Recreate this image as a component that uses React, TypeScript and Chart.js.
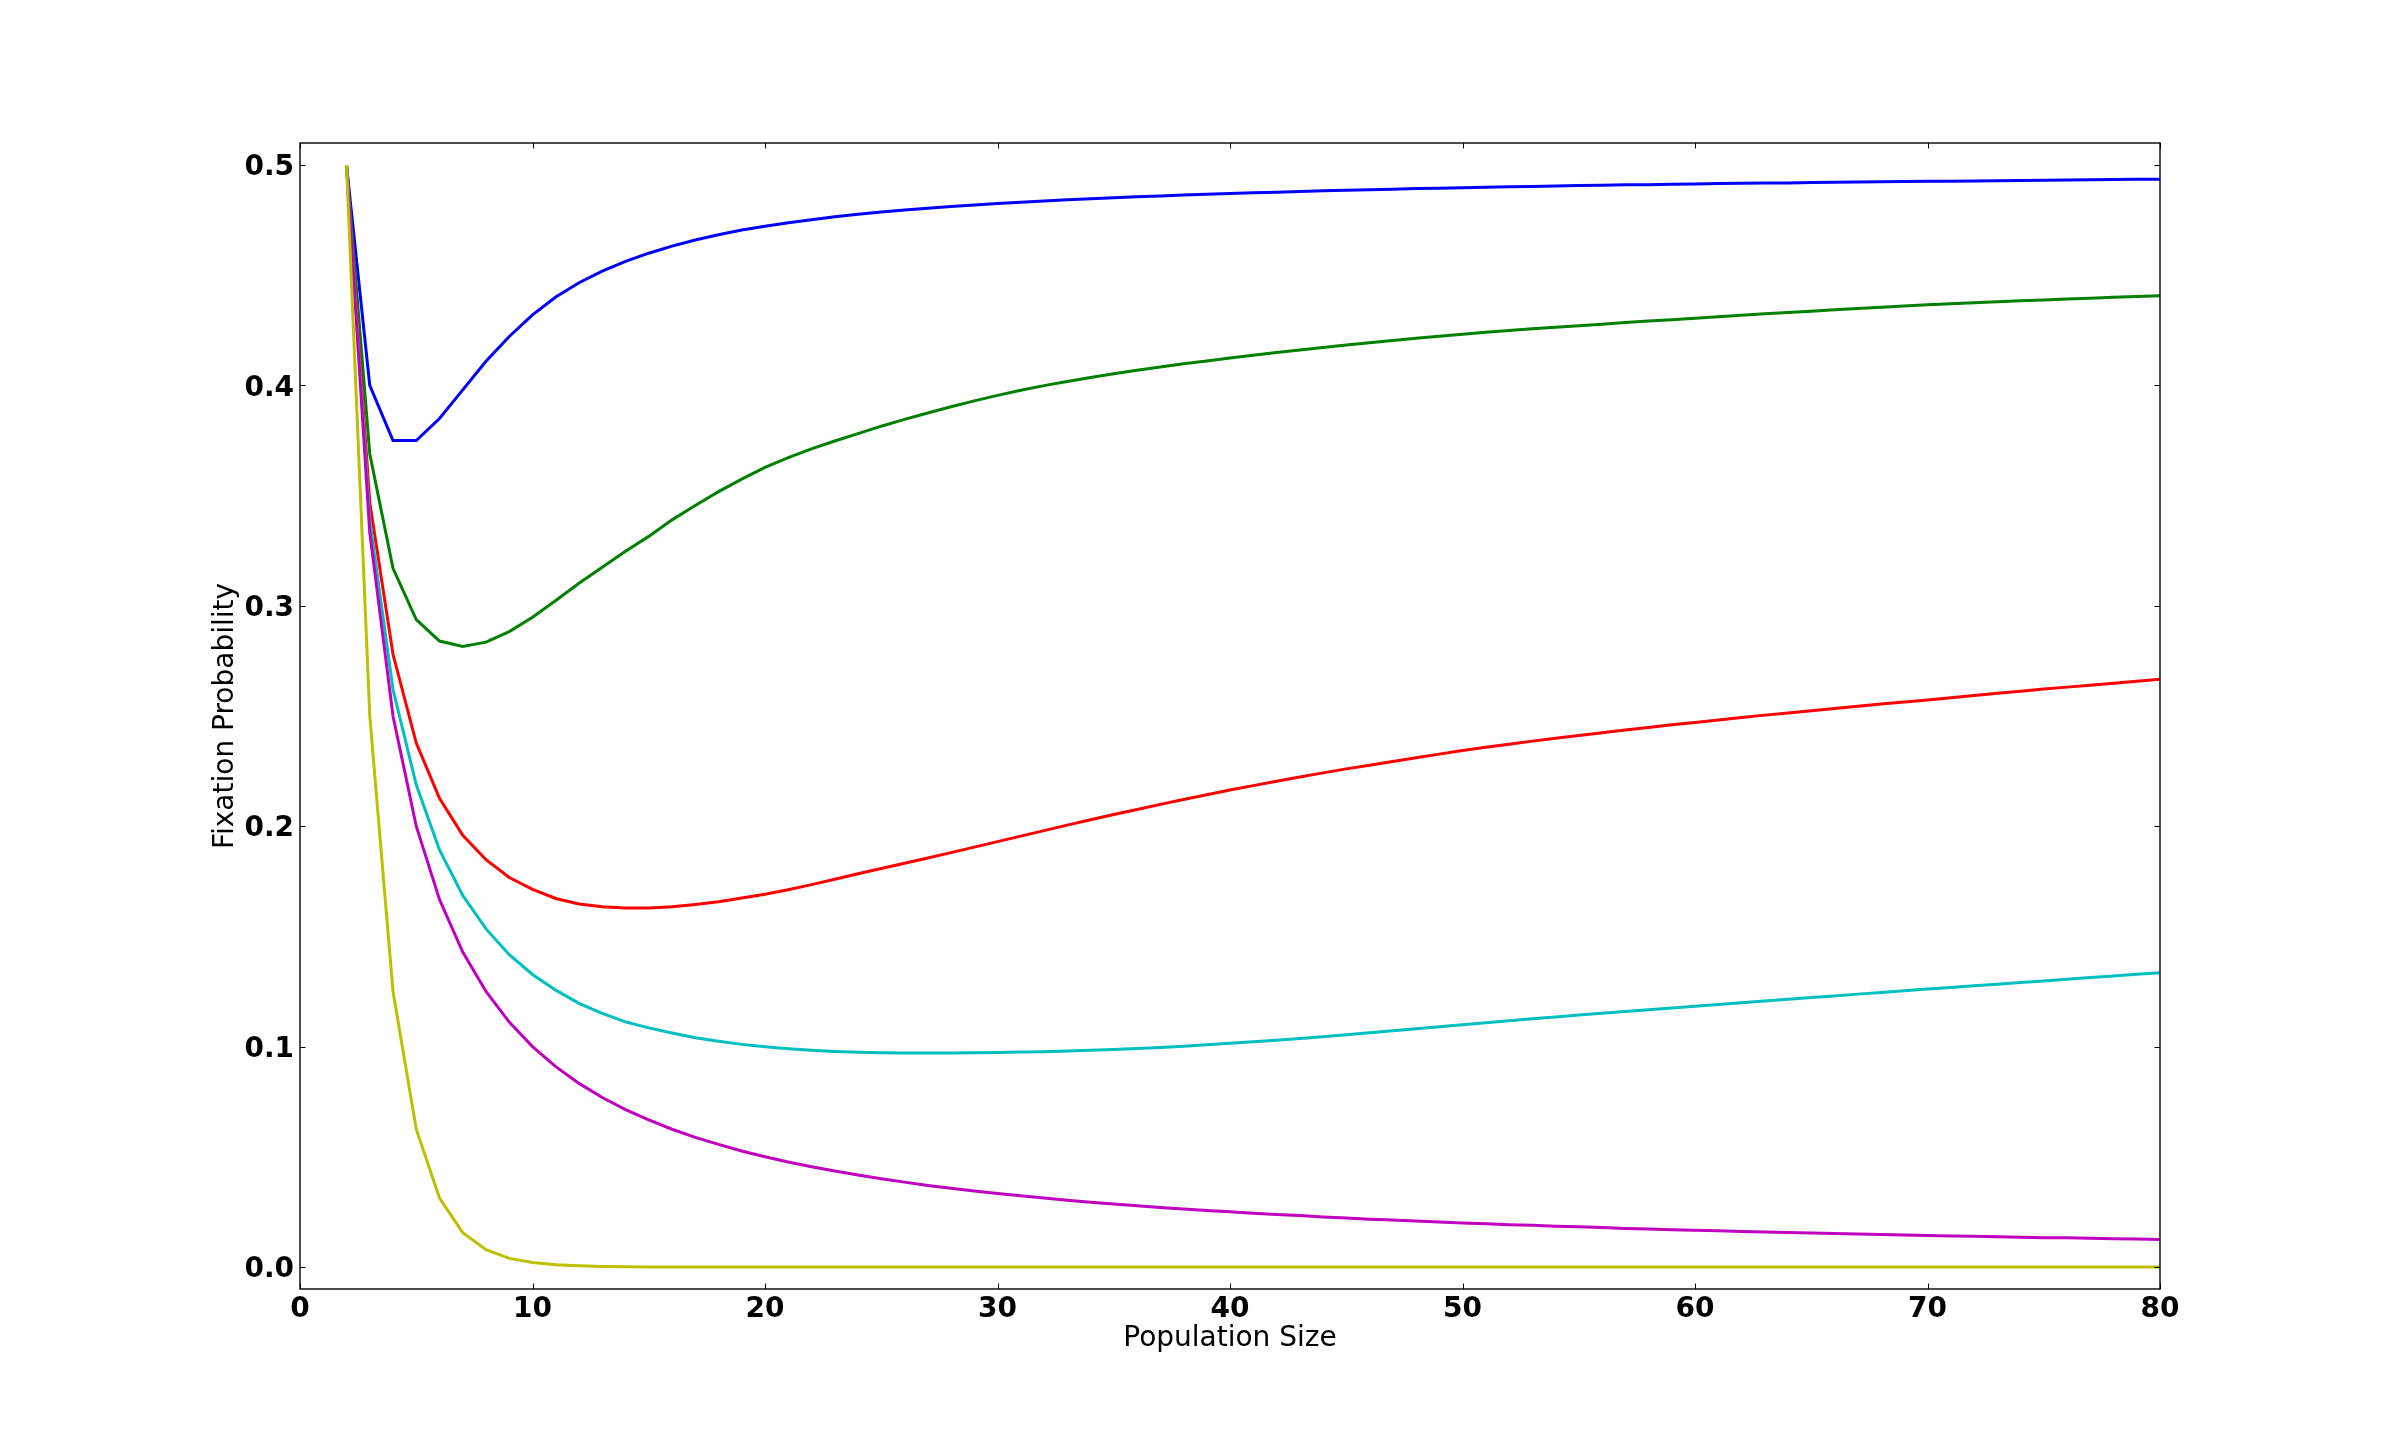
import { useEffect, useRef } from "react";
import { Chart, registerables } from "chart.js";

Chart.register(...registerables);

const POPULATION_SIZE = [
  2, 3, 4, 5, 6, 7, 8, 9, 10, 11,
  12, 13, 14, 15, 16, 17, 18, 19, 20, 21,
  22, 23, 24, 25, 26, 27, 28, 29, 30, 31,
  32, 33, 34, 35, 36, 37, 38, 39, 40, 41,
  42, 43, 44, 45, 46, 47, 48, 49, 50, 51,
  52, 53, 54, 55, 56, 57, 58, 59, 60, 61,
  62, 63, 64, 65, 66, 67, 68, 69, 70, 71,
  72, 73, 74, 75, 76, 77, 78, 79, 80,
];

const X_TICKS = [0, 10, 20, 30, 40, 50, 60, 70, 80];
const Y_TICKS = [0.0, 0.1, 0.2, 0.3, 0.4, 0.5];

const SERIES_BLUE = [
  0.5, 0.4, 0.375, 0.375, 0.385, 0.398, 0.411, 0.4222, 0.432, 0.4401,
  0.4466, 0.4519, 0.4563, 0.46, 0.4632, 0.466, 0.4684, 0.4705, 0.4722, 0.4738,
  0.4752, 0.4765, 0.4777, 0.4787, 0.4796, 0.4804, 0.4812, 0.4819, 0.4825, 0.4831,
  0.4837, 0.4842, 0.4847, 0.4852, 0.4856, 0.486, 0.4864, 0.4868, 0.4871, 0.4874,
  0.4877, 0.488, 0.4883, 0.4886, 0.4888, 0.489, 0.4893, 0.4895, 0.4897, 0.4899,
  0.4901, 0.4903, 0.4905, 0.4907, 0.4908, 0.491, 0.4911, 0.4913, 0.4914, 0.4916,
  0.4917, 0.4918, 0.4919, 0.4921, 0.4922, 0.4923, 0.4924, 0.4925, 0.4926, 0.4927,
  0.4928, 0.4929, 0.493, 0.4931, 0.4932, 0.4933, 0.4934, 0.4935, 0.4936,
];

const SERIES_GREEN = [
  0.5, 0.369, 0.317, 0.2937, 0.284, 0.2815, 0.2835, 0.2883, 0.2948, 0.3024,
  0.3102, 0.3175, 0.3248, 0.3315, 0.339, 0.3455, 0.3518, 0.3575, 0.3628, 0.3672,
  0.3712, 0.3748, 0.3781, 0.3815, 0.3846, 0.3875, 0.3903, 0.393, 0.3955, 0.3978,
  0.3999, 0.4018, 0.4036, 0.4053, 0.4069, 0.4084, 0.4098, 0.4111, 0.4124, 0.4137,
  0.4149, 0.4161, 0.4172, 0.4183, 0.4194, 0.4204, 0.4214, 0.4223, 0.4232, 0.4241,
  0.4249, 0.4257, 0.4264, 0.4271, 0.4278, 0.4285, 0.4292, 0.4298, 0.4305, 0.4312,
  0.4318, 0.4325, 0.4331, 0.4337, 0.4343, 0.4349, 0.4355, 0.436, 0.4366, 0.4371,
  0.4375, 0.438, 0.4384, 0.4388, 0.4392, 0.4396, 0.44, 0.4404, 0.4407,
];

const SERIES_RED = [
  0.5, 0.347, 0.278, 0.2377, 0.2126, 0.1959, 0.1848, 0.1767, 0.1713, 0.1672,
  0.1647, 0.1634, 0.1629, 0.1629, 0.1634, 0.1645, 0.1657, 0.1674, 0.1691, 0.1712,
  0.1735, 0.1759, 0.1784, 0.1808, 0.1832, 0.1856, 0.188, 0.1905, 0.193, 0.1955,
  0.198, 0.2005, 0.2029, 0.2053, 0.2076, 0.2099, 0.2121, 0.2143, 0.2164, 0.2184,
  0.2204, 0.2223, 0.2242, 0.226, 0.2277, 0.2294, 0.2311, 0.2327, 0.2343, 0.2358,
  0.2372, 0.2386, 0.2399, 0.2412, 0.2424, 0.2436, 0.2448, 0.246, 0.2471, 0.2482,
  0.2493, 0.2504, 0.2514, 0.2524, 0.2534, 0.2544, 0.2554, 0.2564, 0.2573, 0.2583,
  0.2593, 0.2603, 0.2612, 0.2622, 0.2631, 0.264, 0.2649, 0.2658, 0.2667,
];

const SERIES_CYAN = [
  0.5, 0.339, 0.262, 0.2188, 0.1892, 0.1686, 0.1534, 0.1417, 0.1327, 0.1256,
  0.1196, 0.1151, 0.1112, 0.1085, 0.1062, 0.104, 0.1024, 0.101, 0.0999, 0.099,
  0.0983, 0.0978, 0.0974, 0.0972, 0.0971, 0.0971, 0.0971, 0.0972, 0.0973, 0.0975,
  0.0977, 0.098, 0.0983, 0.0987, 0.0991, 0.0996, 0.1001, 0.1008, 0.1015, 0.1022,
  0.1029, 0.1037, 0.1045, 0.1054, 0.1063, 0.1072, 0.1081, 0.109, 0.1099, 0.1108,
  0.1117, 0.1126, 0.1134, 0.1143, 0.1151, 0.1159, 0.1167, 0.1175, 0.1183, 0.1191,
  0.1199, 0.1207, 0.1215, 0.1223, 0.123, 0.1238, 0.1245, 0.1253, 0.1261, 0.1268,
  0.1276, 0.1283, 0.1291, 0.1298, 0.1306, 0.1313, 0.132, 0.1328, 0.1335,
];

const SERIES_MAGENTA = [
  0.5, 0.3333, 0.25, 0.2, 0.1667, 0.1429, 0.125, 0.1111, 0.1, 0.0909,
  0.0833, 0.0769, 0.0714, 0.0667, 0.0625, 0.0588, 0.0556, 0.0526, 0.05, 0.0476,
  0.0455, 0.0435, 0.0417, 0.04, 0.0385, 0.037, 0.0357, 0.0345, 0.0333, 0.0323,
  0.0313, 0.0303, 0.0294, 0.0286, 0.0278, 0.027, 0.0263, 0.0256, 0.025, 0.0244,
  0.0238, 0.0233, 0.0227, 0.0222, 0.0217, 0.0213, 0.0208, 0.0204, 0.02, 0.0196,
  0.0192, 0.0189, 0.0185, 0.0182, 0.0179, 0.0175, 0.0172, 0.0169, 0.0167, 0.0164,
  0.0161, 0.0159, 0.0156, 0.0154, 0.0152, 0.0149, 0.0147, 0.0145, 0.0143, 0.0141,
  0.0139, 0.0137, 0.0135, 0.0133, 0.0132, 0.013, 0.0128, 0.0127, 0.0125,
];

const SERIES_YELLOW = [
  0.5, 0.25, 0.125, 0.0625, 0.0313, 0.0156, 0.0078, 0.0039, 0.002, 0.001,
  0.0005, 0.0002, 0.0001, 0, 0, 0, 0, 0, 0, 0,
  0, 0, 0, 0, 0, 0, 0, 0, 0, 0,
  0, 0, 0, 0, 0, 0, 0, 0, 0, 0,
  0, 0, 0, 0, 0, 0, 0, 0, 0, 0,
  0, 0, 0, 0, 0, 0, 0, 0, 0, 0,
  0, 0, 0, 0, 0, 0, 0, 0, 0, 0,
  0, 0, 0, 0, 0, 0, 0, 0, 0,
];

const FONT = "'DejaVu Sans', 'Liberation Sans', sans-serif";

const frameAndTicks = {
  id: "frameAndTicks",
  afterDatasetsDraw(chart: any) {
    const { ctx, chartArea, scales } = chart;
    const { left, right, top, bottom } = chartArea;
    const xs = scales.x;
    const ys = scales.y;
    const tl = 5.5;
    ctx.save();
    ctx.strokeStyle = "#000000";
    ctx.lineWidth = 1;
    ctx.beginPath();
    xs.ticks.forEach((t: any) => {
      const px = Math.round(xs.getPixelForValue(t.value)) + 0.5;
      ctx.moveTo(px, bottom);
      ctx.lineTo(px, bottom - tl);
      ctx.moveTo(px, top);
      ctx.lineTo(px, top + tl);
    });
    ys.ticks.forEach((t: any) => {
      const py = Math.round(ys.getPixelForValue(t.value)) + 0.5;
      ctx.moveTo(left, py);
      ctx.lineTo(left + tl, py);
      ctx.moveTo(right, py);
      ctx.lineTo(right - tl, py);
    });
    ctx.stroke();
    ctx.lineWidth = 1.4;
    ctx.strokeRect(left, top, right - left, bottom - top);
    ctx.restore();
  },
};

export default function App() {
  const canvasRef = useRef<HTMLCanvasElement | null>(null);

  useEffect(() => {
    document.body.style.margin = "0";
    const canvas = canvasRef.current;
    if (!canvas) return;

    const mk = (label: string, values: number[], color: string, order: number) => ({
      label,
      data: POPULATION_SIZE.map((n, i) => ({ x: n, y: values[i] })),
      borderColor: color,
      backgroundColor: color,
      borderWidth: 3,
      pointRadius: 0,
      tension: 0,
      fill: false,
      order,
    });

    const chart = new Chart(canvas, {
      type: "line",
      data: {
        datasets: [
          mk("blue", SERIES_BLUE, "#0000ff", 5),
          mk("green", SERIES_GREEN, "#008000", 4),
          mk("red", SERIES_RED, "#ff0000", 3),
          mk("cyan", SERIES_CYAN, "#00bfbf", 2),
          mk("magenta", SERIES_MAGENTA, "#bf00bf", 1),
          mk("yellow", SERIES_YELLOW, "#bfbf00", 0),
        ],
      },
      options: {
        responsive: false,
        devicePixelRatio: 1,
        animation: false,
        layout: { padding: { left: 0, top: 143, right: 240, bottom: 0 } },
        plugins: {
          legend: { display: false },
          tooltip: { enabled: false },
        },
        scales: {
          x: {
            type: "linear",
            position: "bottom",
            min: 0,
            max: 80,
            grid: { display: false, drawTicks: false },
            border: { display: false },
            afterBuildTicks: (scale: any) => {
              scale.ticks = X_TICKS.map((v) => ({ value: v }));
            },
            afterFit: (scale: any) => {
              scale.height = 143;
            },
            ticks: {
              autoSkip: false,
              maxRotation: 0,
              padding: 4,
              color: "#000000",
              font: { family: FONT, size: 28, weight: "bold" },
              callback: (v: any) => String(v),
            },
            title: {
              display: true,
              text: "Population Size",
              color: "#000000",
              font: { family: FONT, size: 28, weight: "normal", lineHeight: 1.2 },
              padding: { top: 0, bottom: 76 },
            },
          },
          y: {
            type: "linear",
            position: "left",
            min: -0.01,
            max: 0.51,
            grid: { display: false, drawTicks: false },
            border: { display: false },
            afterBuildTicks: (scale: any) => {
              scale.ticks = Y_TICKS.map((v) => ({ value: v }));
            },
            afterFit: (scale: any) => {
              scale.width = 300;
            },
            ticks: {
              autoSkip: false,
              padding: 6,
              labelOffset: 3,
              color: "#000000",
              font: { family: FONT, size: 28, weight: "bold" },
              callback: (v: any) => Number(v).toFixed(1),
            },
            title: {
              display: true,
              text: "Fixation Probability",
              color: "#000000",
              font: { family: FONT, size: 28, weight: "normal", lineHeight: 1.2 },
              padding: { top: 209, bottom: 0 },
            },
          },
        },
      },
      plugins: [frameAndTicks],
    } as any);

    return () => {
      chart.destroy();
    };
  }, []);

  return (
    <canvas
      ref={canvasRef}
      width={2400}
      height={1432}
      style={{ display: "block", width: "2400px", height: "1432px" }}
    />
  );
}
